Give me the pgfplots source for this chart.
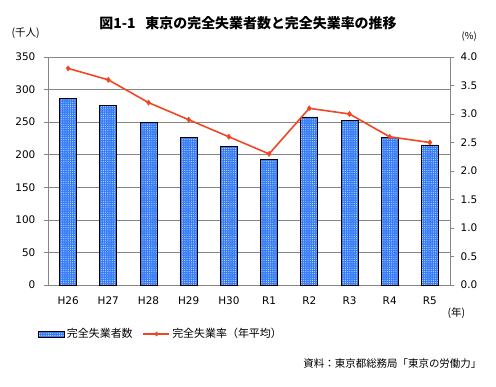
\documentclass[border=0pt]{standalone}
\usepackage{pgfplots}
\pgfplotsset{compat=1.18}
\usepackage{fontspec}
\setmainfont{DejaVu Sans}
\newfontfamily\jp{Noto Sans CJK JP}
\usetikzlibrary{patterns.meta}
\tikzdeclarepattern{
  name=wdots,
  type=uncolored,
  bottom left={(-1.1bp,-1.1bp)},
  top right={(1.1bp,1.1bp)},
  tile size={(2.2bp,2.2bp)},
  code={\pgfpathcircle{\pgfpointorigin}{0.45bp}\pgfusepath{fill}}
}
\definecolor{barblue}{RGB}{55,125,245}
\definecolor{linered}{RGB}{240,70,35}
\definecolor{gridgray}{RGB}{134,134,134}
\pgfplotsset{
  mybarleg/.style={legend image code/.code={\draw[##1] (0bp,-3bp) rectangle (26bp,3bp);}},
  mylineleg/.style={legend image code/.code={\draw[##1, mark=none] (0bp,0bp) -- (26bp,0bp); \fill[linered] (13bp,0bp) circle (1.2bp);}},
}
\pgfplotstableread{
x cnt rate
0 287 3.8
1 276 3.6
2 250 3.2
3 227 2.9
4 212 2.6
5 193 2.3
6 258 3.1
7 252 3.0
8 227 2.6
9 215 2.5
}\datatable
\begin{document}
\fontsize{10.5}{12}\selectfont
\begin{tikzpicture}[x=1bp,y=1bp]
\useasboundingbox (0,0) rectangle (496,386);
\node[font={\jp\bfseries\fontsize{14}{16}\selectfont}] at (248,363) {図1-1\hspace{0.7em}東京の完全失業者数と完全失業率の推移};
\node[font={\jp\fontsize{10.5}{12}\selectfont}, anchor=west] at (8,353) {(千人)};
\node[font={\jp\fontsize{9.5}{11}\selectfont}, anchor=west] at (458,349) {(\%)};
\node[font={\jp\fontsize{10.5}{12}\selectfont}, anchor=west] at (444,73) {(年)};
\node[font={\jp\fontsize{10.5}{12}\selectfont}, anchor=east] at (485,22) {資料：東京都総務局「東京の労働力」};
\begin{axis}[
  at={(48bp,101bp)}, anchor=south west,
  scale only axis, width=402bp, height=228bp,
  xmin=-0.5, xmax=9.5, ymin=0, ymax=350,
  axis x line*=bottom, axis y line*=left,
  axis line style={gridgray},
  xtick=data, xticklabels={H26,H27,H28,H29,H30,R1,R2,R3,R4,R5},
  x tick style={draw=none},
  ytick={0,50,...,350},
  y tick style={gridgray, line width=0.6pt},
  tick align=outside, major tick length=4bp,
  ymajorgrids, grid style={gridgray, line width=0.7pt},
  /pgf/number format/assume math mode=true,
  ticklabel style={font=\fontsize{10.5}{12}\selectfont},
  xticklabel style={yshift=-4bp},
  yticklabel style={xshift=-5bp},
  clip=false,
]
\addplot[ybar, bar width=17bp, fill=barblue, draw=black, line width=0.8pt,
  postaction={pattern={wdots}, pattern color=white}] table[x=x, y=cnt] {\datatable};
\end{axis}
\begin{axis}[
  at={(48bp,101bp)}, anchor=south west,
  scale only axis, width=402bp, height=228bp,
  xmin=-0.5, xmax=9.5, ymin=0, ymax=4,
  axis x line=none, axis y line*=right,
  axis line style={gridgray},
  ytick={0,0.5,...,4},
  y tick style={gridgray, line width=0.6pt},
  tick align=outside, major tick length=4bp,
  /pgf/number format/.cd, fixed, fixed zerofill, precision=1, assume math mode=true, /pgfplots/.cd,
  ticklabel style={font=\fontsize{10.5}{12}\selectfont},
  yticklabel style={xshift=3bp},
  clip=false,
  legend style={at={(-0.025,-0.215)}, anchor=west, draw=none, fill=none,
    legend columns=-1, font={\jp\fontsize{11}{12}\selectfont},
    /tikz/every even column/.append style={column sep=8bp},
    inner sep=0pt},
]
\addlegendimage{mybarleg, fill=barblue, draw=black, line width=0.8pt,
  postaction={pattern={wdots}, pattern color=white}}
\addlegendentry{完全失業者数}
\addplot[mylineleg, linered, line width=1.6pt, mark=diamond*, mark size=2.6bp,
  mark options={fill=linered, draw=linered, line width=0.5pt}]
  table[x=x, y=rate] {\datatable};
\addlegendentry{完全失業率（年平均）}
\end{axis}
\end{tikzpicture}
\end{document}
